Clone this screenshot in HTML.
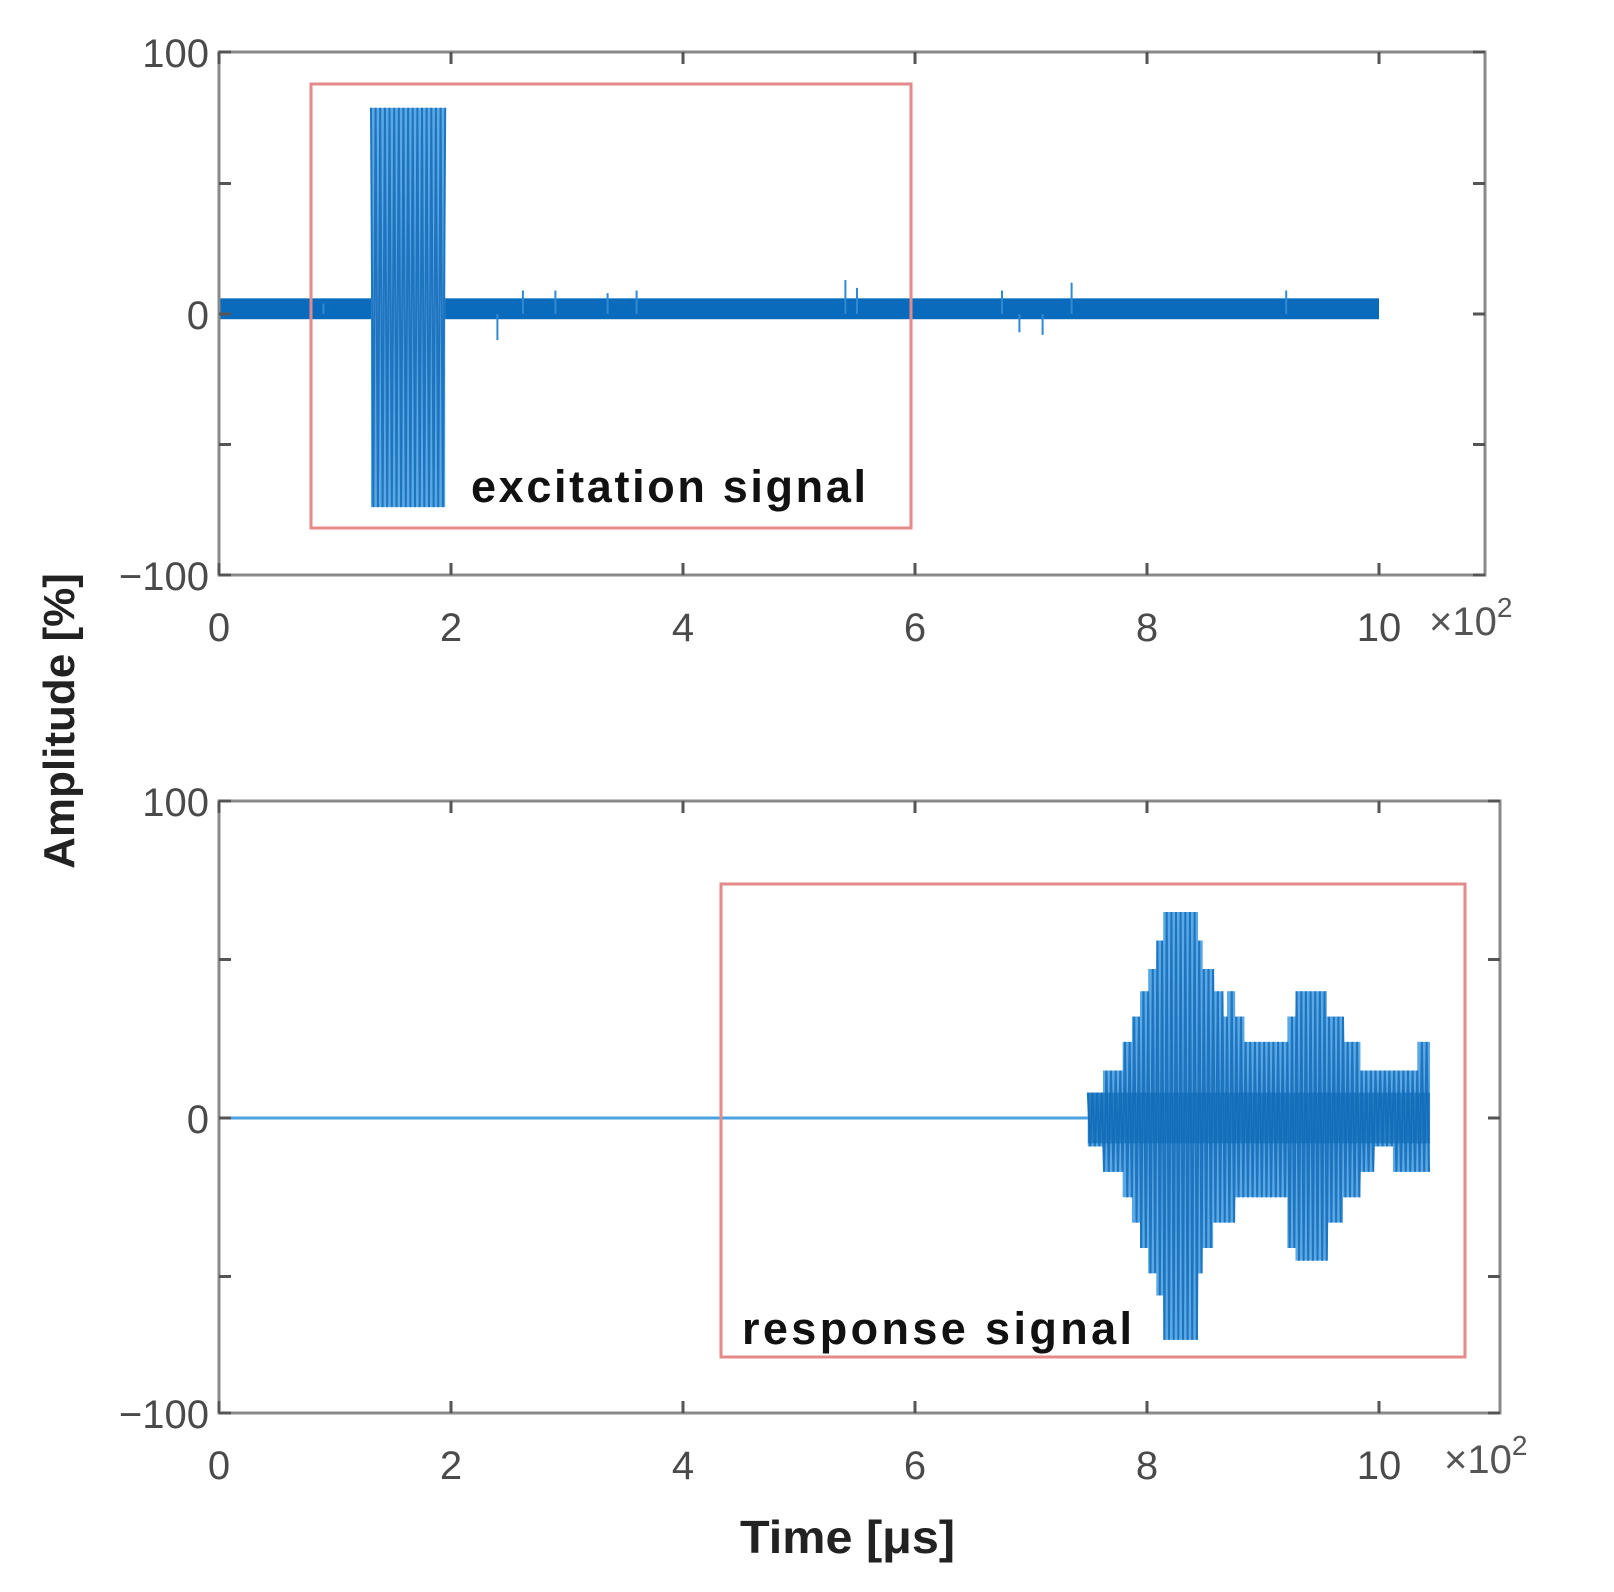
<!DOCTYPE html>
<html><head><meta charset="utf-8"><style>
html,body{margin:0;padding:0;background:#fff;}
svg{display:block;font-family:"Liberation Sans",sans-serif;}
</style></head><body>
<svg id="c" width="1614" height="1592" viewBox="0 0 1614 1592"></svg>
<script>
// ---- data ----
const xTicks = [0, 2, 4, 6, 8, 10];
const xTickLabels = ["0", "2", "4", "6", "8", "10"];
const yTicks = [100, 50, 0, -50, -100];
const yTickLabels = ["100", "", "0", "", "\u2212100"];
// excitation burst
const exBurstTime = [1.31, 1.95];
const exBurstAmp = [79, -74];
const exBand = [6, -2];
const exBandEnd = [10.0];
const exSpikeTimes = [0.9, 2.4, 2.62, 2.9, 3.35, 3.6, 5.4, 5.5, 6.75, 6.9, 7.1, 7.35, 9.2];
const exSpikeAmp = [4, -10, 9, 9, 8, 9, 13, 10, 9, -7, -8, 12, 9];
// response envelope (segment start times, upper, lower)
const respTime  = [7.49, 7.62, 7.70, 7.79, 7.87, 7.94, 8.01, 8.08, 8.14, 8.44, 8.48, 8.57, 8.65, 8.69, 8.76, 8.84, 8.97, 9.21, 9.28, 9.55, 9.69, 9.84, 9.95, 10.12, 10.33];
const respUpper = [8,   15,   15,   24,   32,   40,   47,   56,   65,   56,   47,   40,   32,   40,   32,   24,   24,   32,   40,   32,   24,   15,   15,   15,   24];
const respLower = [-9, -17,  -17,  -25,  -33,  -41,  -49,  -56,  -70,  -49,  -41,  -33,  -33,  -33,  -25,  -25,  -25,  -41,  -45,  -33,  -25,  -17,  -9,   -17,  -17];
const respEnd = [10.44];

const NS = "http://www.w3.org/2000/svg";
const svgEl = document.getElementById('c');
function mk(tag, attrs, parent) {
  const e = document.createElementNS(NS, tag);
  for (const k in attrs) e.setAttribute(k, attrs[k]);
  (parent || svgEl).appendChild(e);
  return e;
}

function drawAxes(ax, name) {
  const g = mk('g', {});
  
  
  const x = ax.x, y = ax.y;
  const fr = mk('rect', {x: ax.left, y: ax.top, width: ax.right - ax.left, height: ax.bottom - ax.top, fill: 'none', stroke: '#8a8a8a', 'stroke-width': 3}, g);
  
  
  xTicks.forEach((t, i) => {
    const px = x(t);
    mk('line', {x1: px, x2: px, y1: ax.bottom, y2: ax.bottom - 12, stroke: '#555', 'stroke-width': 3}, g);
    mk('line', {x1: px, x2: px, y1: ax.top, y2: ax.top + 12, stroke: '#555', 'stroke-width': 3}, g);
    const tx = mk('text', {x: px, y: ax.bottom + 66, 'text-anchor': 'middle', 'font-size': 40, fill: '#4a4a4a'}, g);
    tx.textContent = xTickLabels[i];
    
    
  });
  yTicks.forEach((v, i) => {
    let py = v === -100 ? ax.bottom : y(v);
    if (v === 100) py = ax.top;
    mk('line', {x1: ax.left, x2: ax.left + 12, y1: py, y2: py, stroke: '#555', 'stroke-width': 3}, g);
    mk('line', {x1: ax.right, x2: ax.right - 12, y1: py, y2: py, stroke: '#555', 'stroke-width': 3}, g);
    if (yTickLabels[i]) {
      const tx = mk('text', {x: ax.left - 10, y: py + 15, 'text-anchor': 'end', 'font-size': 40, fill: '#4a4a4a'}, g);
      tx.textContent = yTickLabels[i];
      
      
    }
  });
  const ex = mk('text', {x: ax.right - 56, y: ax.bottom + 60, 'font-size': 40, fill: '#555'}, g);
  ex.innerHTML = '\u00d710<tspan dy="-18" font-size="28">2</tspan>';
  
  
}

const axTop = {left: 219, right: 1485, top: 52, bottom: 575};
axTop.x = t => axTop.left + t * 116.0;
axTop.y = v => 314 - v * 2.61;
const axBot = {left: 219, right: 1500, top: 801, bottom: 1413};
axBot.x = t => axBot.left + t * 116.0;
axBot.y = v => 1118 - v * 3.17;

// ---- top: excitation ----
(function () {
  const g = mk('g', {});
  
  
  const x = axTop.x, y = axTop.y;
  const band = mk('rect', {x: x(0), y: y(exBand[0]), width: x(exBandEnd[0]) - x(0), height: y(exBand[1]) - y(exBand[0]), fill: '#0a6bbd'}, g);
  
  
  exSpikeTimes.forEach((t, i) => {
    const s = mk('line', {x1: x(t), x2: x(t), y1: y(0), y2: y(exSpikeAmp[i]), stroke: '#2f8ad6', 'stroke-width': 2}, g);
    
    
  });
  const bf = mk('rect', {x: x(exBurstTime[0]), y: y(exBurstAmp[0]), width: x(exBurstTime[1]) - x(exBurstTime[0]), height: y(exBurstAmp[1]) - y(exBurstAmp[0]), fill: '#5aa9e4'}, g);
  
  
  let d = '';
  const step = 0.02;
  let k = 0;
  for (let t = exBurstTime[0]; t <= exBurstTime[1] + 1e-9; t += step, k++) {
    const v = exBurstAmp[k % 2];
    d += (k === 0 ? 'M' : 'L') + x(t).toFixed(1) + ' ' + y(v).toFixed(1) + ' ';
  }
  const p = mk('path', {d: d, fill: 'none', stroke: '#1f74bf', 'stroke-width': 2}, g);
  
  
})();

// ---- bottom: response ----
(function () {
  const g = mk('g', {});
  
  
  const x = axBot.x, y = axBot.y;
  const base = mk('line', {x1: x(0), x2: x(respTime[0]), y1: y(0), y2: y(0), stroke: '#4aa3e0', 'stroke-width': 3}, g);
  
  
  let fd = '';
  for (let i = 0; i < respTime.length; i++) {
    const t0 = respTime[i], t1 = i + 1 < respTime.length ? respTime[i + 1] : respEnd[0];
    fd += (i === 0 ? 'M' : 'L') + x(t0) + ' ' + y(respUpper[i]) + ' L' + x(t1) + ' ' + y(respUpper[i]) + ' ';
  }
  for (let i = respTime.length - 1; i >= 0; i--) {
    const t0 = respTime[i], t1 = i + 1 < respTime.length ? respTime[i + 1] : respEnd[0];
    fd += 'L' + x(t1) + ' ' + y(respLower[i]) + ' L' + x(t0) + ' ' + y(respLower[i]) + ' ';
  }
  const fill = mk('path', {d: fd + 'Z', fill: '#5aa9e4'}, g);
  
  
  let d = '';
  const step = 0.02;
  let k = 0, seg = 0;
  for (let t = respTime[0]; t <= respEnd[0] + 1e-9; t += step, k++) {
    while (seg + 1 < respTime.length && t >= respTime[seg + 1]) seg++;
    const v = k % 2 === 0 ? respUpper[seg] : respLower[seg];
    d += (k === 0 ? 'M' : 'L') + x(t).toFixed(1) + ' ' + y(v).toFixed(1) + ' ';
  }
  const p = mk('path', {d: d, fill: 'none', stroke: '#1f74bf', 'stroke-width': 2}, g);
  
  
  const core = mk('rect', {x: x(respTime[0]), y: y(8), width: x(respEnd[0]) - x(respTime[0]), height: y(-8) - y(8), fill: '#0f6cb8', opacity: 0.7}, g);
  
  
})();

drawAxes(axTop, 'top');
drawAxes(axBot, 'bottom');

(function(){
  function add(tag,a,txt){const e=document.createElementNS(NS,tag);for(const k in a)e.setAttribute(k,a[k]);if(txt)e.textContent=txt;svgEl.appendChild(e);return e;}
  let r=add('rect',{x:311,y:84,width:600,height:444,fill:'none',stroke:'#e58a8a','stroke-width':3});
  
  
  r=add('rect',{x:721,y:884,width:744,height:473,fill:'none',stroke:'#e58a8a','stroke-width':3});
  
  
  let t=add('text',{x:471,y:502,'font-size':45,'font-weight':'bold',fill:'#111',textLength:395,lengthAdjust:'spacing'},'excitation signal');
  
  
  t=add('text',{x:742,y:1344,'font-size':45,'font-weight':'bold',fill:'#111',textLength:390,lengthAdjust:'spacing'},'response  signal');
  
  
  t=add('text',{x:0,y:0,'font-size':44,'font-weight':'bold',fill:'#222','text-anchor':'middle',transform:'translate(74,721) rotate(-90)'},'Amplitude [%]');
  
  
  t=add('text',{x:740,y:1553,'font-size':46,fill:'#222','font-weight':'bold',textLength:215,lengthAdjust:'spacingAndGlyphs'},'Time [\u03bcs]');
  
  
})();
</script>
</body></html>
